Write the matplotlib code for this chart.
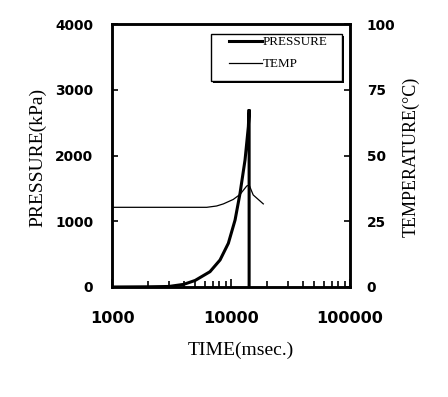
import matplotlib

matplotlib.use("Agg")
import matplotlib.pyplot as plt
from matplotlib.lines import Line2D
from matplotlib.patches import Rectangle
from matplotlib.ticker import LogLocator, NullFormatter, FixedLocator

# data
TIME_P = [1000, 2000, 3000, 4000, 5000, 6660, 8090, 9500, 10820, 11910, 13120, 13990, 14200, 14200]
PRESSURE = [0, 3, 8, 40, 100, 233, 411, 665, 1019, 1425, 1932, 2438, 2700, 0]

TIME_T = [1000, 6250, 7570, 8630, 10450, 11910, 13560, 14200, 15360, 18680]
TEMP = [30.3, 30.3, 30.8, 31.6, 33.3, 35.2, 38.4, 38.8, 35.0, 31.6]

P_TICKS = [0, 1000, 2000, 3000, 4000]
T_TICKS = [0, 25, 50, 75, 100]
X_TICKS = [1000, 10000, 100000]

SANS = "DejaVu Sans"
SERIF = "Liberation Serif"

fig = plt.figure(figsize=(4.48, 3.97), dpi=100)
ax = fig.add_axes([112 / 448, 1 - 287 / 397, 238 / 448, 263 / 397])
ax2 = ax.twinx()

ax.plot(TIME_P, PRESSURE, color="black", lw=2.2, solid_joinstyle="miter")
ax2.plot(TIME_T, TEMP, color="black", lw=0.9)

ax.set_xscale("log")
ax.set_xlim(1000, 100000)
ax.set_ylim(0, 4000)
ax2.set_ylim(0, 100)

ax.xaxis.set_major_locator(FixedLocator(X_TICKS))
ax.xaxis.set_minor_locator(LogLocator(base=10, subs=range(2, 10)))
ax.xaxis.set_minor_formatter(NullFormatter())
ax.set_xticklabels([str(v) for v in X_TICKS])
ax.set_yticks(P_TICKS)
ax2.set_yticks(T_TICKS)

ax.tick_params(axis="x", which="major", direction="in", length=6, width=1.2,
               pad=17, top=False, labelsize=11.6)
ax.tick_params(axis="x", which="minor", direction="in", length=4, width=1.2, top=False)
ax.tick_params(axis="y", direction="in", length=4, width=1.2, pad=13.5, labelsize=9.9)
ax2.tick_params(axis="y", direction="in", length=4, width=1.2, pad=12, labelsize=9.9)

for a in (ax, ax2):
    for lab in a.get_xticklabels() + a.get_yticklabels():
        lab.set_fontfamily(SANS)
        lab.set_fontweight("bold")
    for s in a.spines.values():
        s.set_linewidth(1.8)

fig.text(38 / 448, 1 - 157 / 397, "PRESSURE(kPa)", rotation=90, ha="center",
         va="center", family=SERIF, fontsize=14)
fig.text(411 / 448, 1 - 157 / 397, "TEMPERATURE(°C)", rotation=90, ha="center",
         va="center", family=SERIF, fontsize=13)
fig.text(241 / 448, 1 - 350 / 397, "TIME(msec.)", ha="center", va="center",
         family=SERIF, fontsize=14)

# legend box with a thin drop shadow, drawn by hand
x0, x1 = (211 - 112) / 238, (342 - 112) / 238
y0, y1 = (287 - 81) / 263, (287 - 34) / 263
dx, dy = 2 / 238, 2 / 263
ax2.add_patch(Rectangle((x0 + dx, y0 - dy), x1 - x0, y1 - y0, transform=ax2.transAxes,
                        facecolor="black", edgecolor="none", zorder=5))
ax2.add_patch(Rectangle((x0, y0), x1 - x0, y1 - y0, transform=ax2.transAxes,
                        facecolor="white", edgecolor="black", lw=1.0, zorder=6))
handles = [Line2D([], [], color="black", lw=2.2), Line2D([], [], color="black", lw=0.9)]
leg = ax2.legend(handles, ["PRESSURE", "TEMP"], loc="upper left",
                 bbox_to_anchor=((228 - 112) / 238, (287 - 35) / 263), frameon=False,
                 borderpad=0.1, borderaxespad=0, handlelength=2.5, handletextpad=0.05,
                 labelspacing=0.75, prop={"family": SERIF, "size": 9.4})
leg.set_zorder(7)

fig.savefig("out.png", dpi=100)
